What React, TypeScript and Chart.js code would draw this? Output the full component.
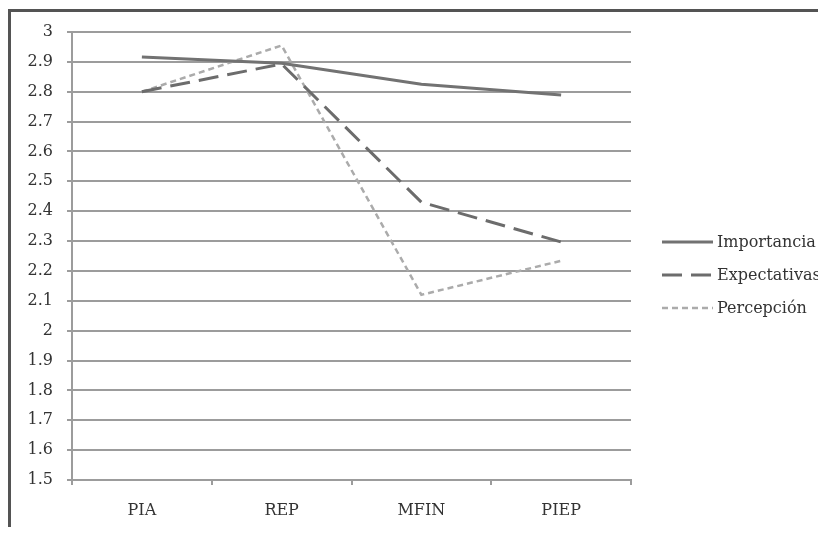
import React, { useEffect, useRef } from "react";
import { Chart, registerables } from "chart.js";

Chart.register(...registerables);

const categories = ["PIA", "REP", "MFIN", "PIEP"];
const importancia = [2.916, 2.895, 2.825, 2.789];
const expectativas = [2.8, 2.893, 2.43, 2.297];
const percepcion = [2.8, 2.955, 2.12, 2.234];
const seriesNames = ["Importancia", "Expectativas", "Percepción"];
const yMin = 1.5;
const yMax = 3;
const yStep = 0.1;

const FONT = "'DejaVu Serif', serif";
const GRID = "#9c9c9c";
const TEXT = "#333333";

const customLegend = {
  id: "customLegend",
  afterDraw(chart: any) {
    const { ctx, chartArea } = chart;
    const x0 = chartArea.right + 31;
    const lineLen = 51;
    const y0 = chartArea.top + 210;
    const gap = 33;
    ctx.save();
    chart.data.datasets.forEach((ds: any, i: number) => {
      const y = y0 + i * gap;
      ctx.beginPath();
      ctx.strokeStyle = ds.borderColor;
      ctx.lineWidth = ds.borderWidth;
      ctx.setLineDash(ds.borderDash || []);
      ctx.moveTo(x0, y);
      ctx.lineTo(x0 + lineLen, y);
      ctx.stroke();
      ctx.setLineDash([]);
      ctx.fillStyle = TEXT;
      ctx.font = `16px ${FONT}`;
      ctx.textBaseline = "middle";
      ctx.textAlign = "left";
      ctx.fillText(ds.label, x0 + lineLen + 4, y + 1);
    });
    ctx.restore();
  },
};

export default function App() {
  const ref = useRef<HTMLCanvasElement | null>(null);

  useEffect(() => {
    if (!ref.current) return;
    const chart = new Chart(ref.current, {
      type: "line",
      data: {
        labels: categories,
        datasets: [
          {
            label: seriesNames[0],
            data: importancia,
            borderColor: "#727272",
            borderWidth: 3,
            pointRadius: 0,
            tension: 0,
            fill: false,
          },
          {
            label: seriesNames[1],
            data: expectativas,
            borderColor: "#6c6c6c",
            borderWidth: 3,
            borderDash: [20, 9],
            pointRadius: 0,
            tension: 0,
            fill: false,
          },
          {
            label: seriesNames[2],
            data: percepcion,
            borderColor: "#ababab",
            borderWidth: 2.5,
            borderDash: [6, 4],
            pointRadius: 0,
            tension: 0,
            fill: false,
          },
        ],
      },
      options: {
        animation: false,
        responsive: false,
        maintainAspectRatio: false,
        layout: { padding: { left: 0, top: 32, right: 195, bottom: 10 } },
        plugins: {
          legend: { display: false },
          tooltip: { enabled: false },
        },
        scales: {
          x: {
            type: "category",
            offset: true,
            grid: {
              offset: true,
              drawOnChartArea: false,
              drawTicks: true,
              tickLength: 5,
              color: GRID,
              lineWidth: 2,
            },
            border: { display: true, color: GRID, width: 2 },
            ticks: {
              color: TEXT,
              font: { family: FONT, size: 16 },
              padding: 16,
              maxRotation: 0,
            },
            afterFit: (s: any) => {
              s.height = 45;
            },
          },
          y: {
            min: yMin,
            max: yMax,
            grid: {
              color: GRID,
              lineWidth: 2,
              drawTicks: true,
              tickLength: 5,
            },
            border: { display: true, color: GRID, width: 2 },
            ticks: {
              stepSize: yStep,
              color: TEXT,
              font: { family: FONT, size: 16 },
              padding: 14,
              callback: (v: any) => String(Math.round(Number(v) * 10) / 10),
            },
            afterFit: (s: any) => {
              s.width = 72;
            },
          },
        },
      },
      plugins: [customLegend],
    });
    return () => chart.destroy();
  }, []);

  return (
    <div
      style={{
        position: "relative",
        width: 818,
        height: 518,
        marginTop: 1,
        boxSizing: "border-box",
        borderTop: "3px solid #545454",
        borderLeft: "3px solid #545454",
      }}
    >
      <canvas
        ref={ref}
        width={826}
        height={535}
        style={{ position: "absolute", left: -11, top: -12, width: 826, height: 535 }}
      />
    </div>
  );
}
